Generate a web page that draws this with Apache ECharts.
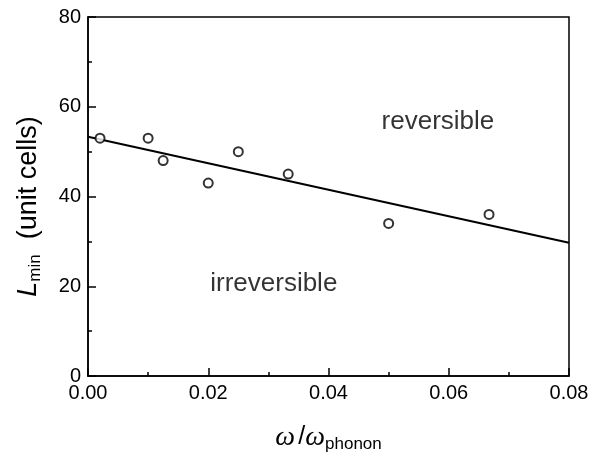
<!DOCTYPE html>
<html>
<head>
<meta charset="utf-8">
<script src="https://cdn.jsdelivr.net/npm/echarts@6/dist/echarts.min.js"></script>
<style>
  html, body { margin: 0; padding: 0; background: #fff; }
  #chart { width: 591px; height: 456px; }
</style>
</head>
<body>
<div id="chart"></div>
<script>
// measured points: omega / omega_phonon vs L_min
const ratio = [0.002, 0.01, 0.0125, 0.02, 0.025, 0.0333, 0.05, 0.0667]
const lmin = [53, 53, 48, 43, 50, 45, 34, 36]

// linear fit, end points
const fitX = [0, 0.08]
const fitY = [53.3, 29.7]

// region labels
const regionText = ['reversible', 'irreversible']
const regionX = [0.0582, 0.0309]
const regionY = [56.6, 20.6]

const xTicks = [0, 0.02, 0.04, 0.06, 0.08]
const yTicks = [0, 20, 40, 60, 80]

const chart = echarts.init(document.getElementById('chart'))

const font = 'Liberation Sans, Arial, sans-serif'

chart.setOption({
  animation: false,
  backgroundColor: '#fff',
  grid: {
    left: 88,
    right: 22,
    top: 17,
    bottom: 80,
    outerBoundsMode: 'none',
    show: true,
    borderColor: '#000',
    borderWidth: 1.5
  },
  xAxis: {
    type: 'value',
    min: xTicks[0],
    max: xTicks[xTicks.length - 1],
    interval: 0.02,
    name: '{w|ω} {s|/}{w|ω}{sub|phonon}',
    nameLocation: 'middle',
    nameGap: 46,
    nameTextStyle: {
      rich: {
        w: { fontFamily: 'Liberation Serif, serif', fontStyle: 'italic', fontSize: 28, color: '#000' },
        s: { fontFamily: font, fontSize: 25, color: '#000' },
        sub: { fontFamily: font, fontSize: 17, color: '#000', padding: [14, 0, 0, 0] }
      }
    },
    axisLine: { lineStyle: { color: '#000', width: 1.5 } },
    axisTick: { inside: true, length: 8, lineStyle: { color: '#000', width: 1.5 } },
    minorTick: { show: true, splitNumber: 2, length: 4, lineStyle: { color: '#000', width: 1.5 } },
    splitLine: { show: false },
    axisLabel: {
      color: '#000',
      fontFamily: font,
      fontSize: 20,
      margin: 7,
      formatter: v => v.toFixed(2)
    }
  },
  yAxis: {
    type: 'value',
    min: yTicks[0],
    max: yTicks[yTicks.length - 1],
    interval: 20,
    name: '{l|L}{sub|min}{t|  (unit cells)}',
    nameLocation: 'middle',
    nameGap: 44,
    nameTextStyle: {
      padding: [0, 20, 0, 0],
      rich: {
        l: { fontFamily: font, fontStyle: 'italic', fontSize: 27, color: '#000' },
        sub: { fontFamily: font, fontSize: 17, color: '#000', padding: [14, 0, 0, 0] },
        t: { fontFamily: font, fontSize: 27, color: '#000' }
      }
    },
    axisLine: { lineStyle: { color: '#000', width: 1.5 } },
    axisTick: { inside: true, length: 8, lineStyle: { color: '#000', width: 1.5 } },
    minorTick: { show: true, splitNumber: 2, length: 4, lineStyle: { color: '#000', width: 1.5 } },
    splitLine: { show: false },
    axisLabel: {
      color: '#000',
      fontFamily: font,
      fontSize: 20,
      margin: 7
    }
  },
  series: [
    {
      type: 'line',
      data: fitX.map((x, i) => [x, fitY[i]]),
      showSymbol: false,
      lineStyle: { color: '#000', width: 2 },
      z: 2
    },
    {
      type: 'scatter',
      data: ratio.map((x, i) => [x, lmin[i]]),
      symbol: 'circle',
      symbolSize: 9,
      itemStyle: { color: '#fff', borderColor: '#000', borderWidth: 2 },
      z: 3
    },
    {
      type: 'scatter',
      data: regionX.map((x, i) => ({ value: [x, regionY[i]], name: regionText[i] })),
      symbolSize: 0,
      itemStyle: { color: 'rgba(0,0,0,0)' },
      silent: true,
      label: {
        show: true,
        position: 'inside',
        formatter: p => p.name,
        color: '#000',
        textBorderWidth: 0,
        fontFamily: font,
        fontSize: 26
      }
    }
  ]
})
</script>
</body>
</html>
